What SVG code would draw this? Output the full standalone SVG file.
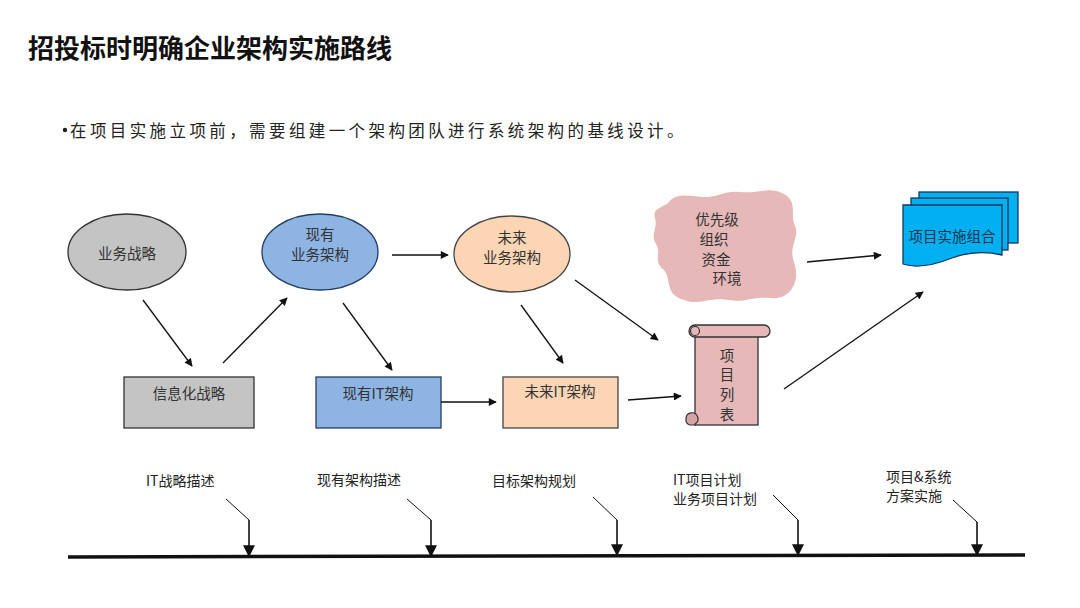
<svg xmlns="http://www.w3.org/2000/svg" width="1080" height="608" viewBox="0 0 1080 608">
<defs>
<style>
.t{font-family:"Noto Sans CJK SC","Liberation Sans",sans-serif;fill:#333;font-size:14.5px;text-anchor:middle;dominant-baseline:central}
.tl{font-family:"Noto Sans CJK SC","Liberation Sans",sans-serif;fill:#222;font-size:14px;dominant-baseline:central}
.c{stroke:#111;stroke-width:1.3;fill:none}
.tm{stroke:#111;stroke-width:1;fill:none}
.tv{stroke:#111;stroke-width:1.6;fill:none}
</style>
<marker id="ah" viewBox="0 0 10 10" refX="9" refY="5" markerWidth="9" markerHeight="8" markerUnits="userSpaceOnUse" orient="auto">
<path d="M0,0 L10,5 L0,10 Z" fill="#111"/>
</marker>
<marker id="ah2" viewBox="0 0 10 10" refX="9" refY="5" markerWidth="13" markerHeight="12" markerUnits="userSpaceOnUse" orient="auto">
<path d="M0,0 L10,5 L0,10 Z" fill="#111"/>
</marker>
</defs>
<rect width="1080" height="608" fill="#fff"/>
<text x="28" y="46" font-family="Noto Sans CJK SC,Liberation Sans,sans-serif" font-size="26" font-weight="bold" fill="#111" dominant-baseline="central">招投标时明确企业架构实施路线</text>
<circle cx="65" cy="130" r="2.2" fill="#222"/>
<text x="70" y="130" font-family="Noto Sans CJK SC,Liberation Sans,sans-serif" font-size="16.5" fill="#222" letter-spacing="3.4" dominant-baseline="central">在项目实施立项前，需要组建一个架构团队进行系统架构的基线设计。</text>

<g id="n-biz-strategy">
<ellipse cx="127" cy="252" rx="59" ry="38" fill="#c4c4c4" stroke="#333" stroke-width="1.3"/>
<text class="t" x="127" y="252">业务战略</text>
</g>
<g id="n-cur-biz">
<ellipse cx="320" cy="252" rx="58" ry="38" fill="#8eb4e3" stroke="#243f60" stroke-width="1.3"/>
<text class="t" x="320" y="233">现有</text>
<text class="t" x="320" y="253">业务架构</text>
</g>
<g id="n-fut-biz">
<ellipse cx="512" cy="254" rx="58" ry="38" fill="#fcd5b4" stroke="#444" stroke-width="1.3"/>
<text class="t" x="512" y="236">未来</text>
<text class="t" x="512" y="256">业务架构</text>
</g>
<g id="n-info-strategy">
<rect x="124" y="377" width="130" height="51" fill="#c4c4c4" stroke="#333" stroke-width="1.3"/>
<text class="t" x="189" y="392">信息化战略</text>
</g>
<g id="n-cur-it">
<rect x="316" y="377" width="125" height="51" fill="#8eb4e3" stroke="#243f60" stroke-width="1.3"/>
<text class="t" x="378" y="392">现有IT架构</text>
</g>
<g id="n-fut-it">
<rect x="503" y="377" width="115" height="51" fill="#fcd5b4" stroke="#444" stroke-width="1.3"/>
<text class="t" x="560" y="390">未来IT架构</text>
</g>
<g id="n-project-list">
<rect x="695" y="331" width="63" height="94" fill="#e6b9b8" stroke="#333" stroke-width="1.3"/>
<rect x="689" y="325" width="81" height="12" rx="6" fill="#e6b9b8" stroke="#333" stroke-width="1.3"/>
<circle cx="695" cy="331" r="4.5" fill="#e6b9b8" stroke="#333" stroke-width="1.2"/>
<path d="M686,419 a6,6 0 1 1 9,5 L695,425 L690,425 a5,5 0 0 1 -4,-6 Z" fill="#d4a5a4" stroke="#333" stroke-width="1.2"/>
<text class="t" x="727" y="354">项</text>
<text class="t" x="727" y="373">目</text>
<text class="t" x="727" y="393">列</text>
<text class="t" x="727" y="413">表</text>
</g>
<g id="n-factors">
<path d="M668,203 C676,192 690,196 702,197 C716,198 726,190 740,192 C756,194 770,186 784,194 C798,202 790,214 795,226 C800,238 788,246 794,262 C801,282 790,300 770,298 C752,296 744,303 728,300 C710,297 700,306 684,300 C664,294 672,280 664,270 C652,260 662,254 656,244 C650,234 658,228 655,218 C652,208 662,208 668,203 Z" fill="#e6b9b8"/>
<text class="t" x="717" y="218">优先级</text>
<text class="t" x="714" y="238">组织</text>
<text class="t" x="716" y="258">资金</text>
<text class="t" x="727" y="277">环境</text>
</g>
<g id="n-portfolio">
<rect x="919" y="192" width="99" height="51" fill="#00b0f0" stroke="#17375e" stroke-width="1.3"/>
<rect x="911" y="198" width="97" height="52" fill="#00b0f0" stroke="#17375e" stroke-width="1.3"/>
<path d="M903,205 L1002,205 L1002,255 C985,251 968,252 952,258 C932,266 915,268 903,264 Z" fill="#00b0f0" stroke="#17375e" stroke-width="1.3"/>
<text class="t" x="952" y="235" style="fill:#1f3550">项目实施组合</text>
</g>

<g id="connectors">
<line class="c" x1="143" y1="300" x2="192" y2="366" marker-end="url(#ah)"/>
<line class="c" x1="223" y1="363" x2="287" y2="298" marker-end="url(#ah)"/>
<line class="c" x1="392" y1="255" x2="448" y2="255" marker-end="url(#ah)"/>
<line class="c" x1="343" y1="303" x2="392" y2="370" marker-end="url(#ah)"/>
<line class="c" x1="441" y1="402" x2="496" y2="402" marker-end="url(#ah)"/>
<line class="c" x1="521" y1="305" x2="563" y2="363" marker-end="url(#ah)"/>
<line class="c" x1="575" y1="280" x2="658" y2="340" marker-end="url(#ah)"/>
<line class="c" x1="628" y1="400" x2="681" y2="396" marker-end="url(#ah)"/>
<line class="c" x1="807" y1="262" x2="881" y2="255" marker-end="url(#ah)"/>
<line class="c" x1="784" y1="389" x2="923" y2="292" marker-end="url(#ah)"/>
</g>

<g id="timeline">
<line x1="68" y1="557" x2="1025" y2="555" stroke="#111" stroke-width="3.5"/>
<polyline class="tm" points="226,499 249,520"/>
<line class="tv" x1="249" y1="520" x2="249" y2="556" marker-end="url(#ah2)"/>
<polyline class="tm" points="407,499 431,520"/>
<line class="tv" x1="431" y1="520" x2="431" y2="556" marker-end="url(#ah2)"/>
<polyline class="tm" points="593,497 617,520"/>
<line class="tv" x1="617" y1="520" x2="617" y2="555" marker-end="url(#ah2)"/>
<polyline class="tm" points="773,495 798,520"/>
<line class="tv" x1="798" y1="520" x2="798" y2="555" marker-end="url(#ah2)"/>
<polyline class="tm" points="953,500 977,522"/>
<line class="tv" x1="977" y1="522" x2="977" y2="555" marker-end="url(#ah2)"/>
<text class="tl" x="146" y="480">IT战略描述</text>
<text class="tl" x="317" y="479">现有架构描述</text>
<text class="tl" x="492" y="480">目标架构规划</text>
<text class="tl" x="673" y="479">IT项目计划</text>
<text class="tl" x="673" y="498">业务项目计划</text>
<text class="tl" x="886" y="476">项目&amp;系统</text>
<text class="tl" x="886" y="495">方案实施</text>
</g>
</svg>
